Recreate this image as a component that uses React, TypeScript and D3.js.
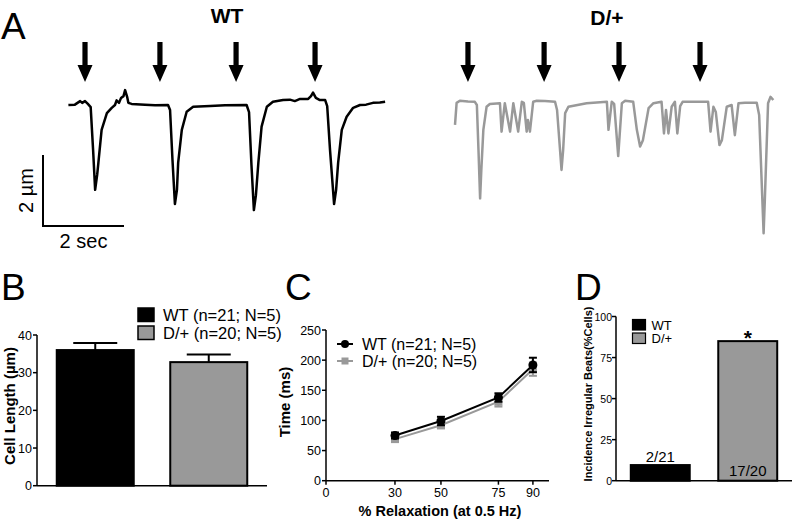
import React from 'react';
import * as d3 from 'd3';

const FONT = "'Liberation Sans', Arial, Helvetica, sans-serif";

// ---------- Panel A: example cell-length traces (time in s, length change in µm) ----------
const wtTraceTime = [0.01, 0.17, 0.30, 0.35, 0.42, 0.49, 0.56, 0.62, 0.67, 0.72, 0.75, 0.83, 0.96, 1.08, 1.16, 1.20, 1.26, 1.31, 1.37, 1.41, 1.46, 1.49, 1.57, 1.90, 2.15, 2.47, 2.52, 2.58, 2.64, 2.69, 2.72, 2.81, 2.93, 3.09, 3.51, 3.88, 4.41, 4.47, 4.53, 4.59, 4.64, 4.70, 4.78, 4.91, 5.06, 5.31, 5.48, 5.60, 5.73, 5.93, 6.00, 6.05, 6.12, 6.22, 6.35, 6.40, 6.47, 6.57, 6.62, 6.67, 6.76, 6.88, 7.04, 7.21, 7.36, 7.53, 7.70, 7.83];
const wtTraceLength = [0, 0.01, 0.11, 0.06, 0.11, 0.03, -0.06, -1.27, -2.39, -1.97, -1.63, -0.70, -0.23, -0.08, 0, 0.13, 0.06, 0.20, 0.25, 0.42, 0.23, 0.06, 0.03, 0.01, -0.01, 0, -0.14, -1.55, -2.79, -2.39, -1.63, -0.70, -0.19, -0.05, -0.03, -0.01, 0, -0.20, -1.69, -2.96, -2.54, -1.63, -0.61, -0.05, 0.09, 0.14, 0.15, 0.11, 0.17, 0.17, 0.25, 0.35, 0.20, 0.14, 0.14, -0.03, -1.27, -2.79, -2.39, -1.63, -0.70, -0.33, -0.08, 0, 0.01, 0.06, 0.07, 0.09];
const dTraceTime = [0, 0.04, 0.12, 0.32, 0.49, 0.54, 0.58, 0.62, 0.65, 0.70, 0.78, 0.86, 1.11, 1.15, 1.23, 1.36, 1.44, 1.56, 1.65, 1.70, 1.77, 1.80, 1.85, 1.93, 2.02, 2.22, 2.47, 2.52, 2.63, 2.67, 2.72, 2.80, 3.25, 3.75, 3.79, 3.87, 3.93, 4.03, 4.12, 4.20, 4.40, 4.49, 4.57, 4.64, 4.78, 4.90, 5.10, 5.16, 5.21, 5.27, 5.35, 5.43, 5.49, 5.56, 5.62, 6.25, 6.31, 6.38, 6.44, 6.53, 6.59, 6.71, 6.83, 6.91, 7.00, 7.16, 7.45, 7.51, 7.62, 7.65, 7.73, 7.79, 7.86];
const dTraceLength = [-0.56, 0.06, 0.12, 0.10, 0.09, 0, -1.27, -2.63, -1.83, -0.70, -0.05, 0.03, 0.05, -0.75, 0.05, -0.75, 0.05, -0.75, 0.09, 0.06, -0.75, -0.42, -0.75, 0.09, 0.12, 0.11, 0.09, -0.14, -1.83, -1.27, -0.23, -0.05, 0.05, 0.09, -0.70, 0.09, 0.03, -1.44, 0.05, 0.12, 0.09, -0.70, -1.17, -0.99, -0.09, 0.05, 0.09, -0.80, -0.14, -0.80, -0.05, 0.09, -0.80, -0.03, 0.09, 0.09, -0.75, -0.05, -0.20, -1.13, -0.99, -0.05, 0, -0.85, 0.05, 0.06, 0.06, -0.28, -3.61, -2.68, 0.05, 0.23, 0.14];
const wtStimuli = [0.42, 2.27, 4.15, 6.1];
const dStimuli = [0.32, 2.2, 4.05, 6.05];

// ---------- Panel B: cell length ----------
const groups = ['WT', 'D/+'];
const groupLegend = ['WT (n=21; N=5)', 'D/+ (n=20; N=5)'];
const cellLength = [36.0, 32.8];
const cellLengthSem = [1.9, 2.0];
const bYTicks = [0, 10, 20, 30, 40];

// ---------- Panel C: relaxation time ----------
const relaxation = [30, 50, 75, 90];
const wtRelaxTime = [75, 99, 138, 192];
const wtRelaxSem = [5, 7, 7, 12];
const dRelaxTime = [69, 92, 131, 185];
const dRelaxSem = [4, 5, 8, 11];
const cXTicks = [0, 30, 50, 75, 90];
const cYTicks = [0, 50, 100, 150, 200, 250];

// ---------- Panel D: incidence of irregular beats ----------
const incidence = [9.52, 85];
const incidenceLabels = ['2/21', '17/20'];
const dYTicks = [0, 25, 50, 75, 100];

const BLACK = '#000';
const GREY = '#999';

function Arrow({ x }: { x: number }) {
  const top = 42, headStart = 65, tip = 82, sw = 2.6, hw = 7.5;
  const d = `M${x - sw},${top}L${x + sw},${top}L${x + sw},${headStart}L${x + hw},${headStart}L${x},${tip}L${x - hw},${headStart}L${x - sw},${headStart}Z`;
  return <path d={d} fill={BLACK} />;
}

function Trace({ t, v, x0, color }: { t: number[]; v: number[]; x0: number; color: string }) {
  const x = d3.scaleLinear().domain([0, 1]).range([x0, x0 + 40.5]);
  const y = d3.scaleLinear().domain([0, -2]).range([105, 176]);
  const line = d3.line<number>().x((_, i) => x(t[i])).y((_, i) => y(v[i])).curve(d3.curveLinear);
  return <path d={line(t) || ''} fill="none" stroke={color} strokeWidth={2.5} strokeLinejoin="round" />;
}

export default function App() {
  // Panel A scales
  const xWT = d3.scaleLinear().domain([0, 1]).range([68, 108.5]);
  const xD = d3.scaleLinear().domain([0, 1]).range([455, 495.5]);
  const yTr = d3.scaleLinear().domain([0, -2]).range([105, 176]);
  const barX0 = 43, barY0 = 226;
  const secLen = xWT(2) - xWT(0);
  const umLen = yTr(-2) - yTr(0);

  // Panel B
  const bx = d3.scaleBand<string>().domain(groups).range([37, 267]).paddingInner(0.3216).paddingOuter(0.174);
  const by = d3.scaleLinear().domain([0, 40]).range([485.7, 335]);

  // Panel C
  const cx = d3.scaleLinear().domain([0, 97]).range([326, 549]);
  const cy = d3.scaleLinear().domain([0, 250]).range([480.7, 330]);
  const cLine = d3.line<number>().x((_, i) => cx(relaxation[i])).y((d) => cy(d));

  // Panel D
  const dx = d3.scaleBand<string>().domain(groups).range([616, 792]).paddingInner(0.326).paddingOuter(0.169);
  const dy = d3.scaleLinear().domain([0, 100]).range([480.7, 316.5]);

  return (
    <svg width={793} height={520} style={{ position: 'absolute', left: 0, top: 0, background: '#fff' }} fontFamily={FONT}>
      <rect x={0} y={0} width={793} height={520} fill="#fff" />
      {/* Panel A */}
      <text x={1} y={39} fontSize={37}>A</text>
      <text x={227} y={23} fontSize={21} fontWeight="bold" textAnchor="middle">WT</text>
      <text x={607} y={25} fontSize={21} fontWeight="bold" textAnchor="middle">D/+</text>
      {wtStimuli.map((s, i) => <Arrow key={'wa' + i} x={xWT(s)} />)}
      {dStimuli.map((s, i) => <Arrow key={'da' + i} x={xD(s)} />)}
      <Trace t={wtTraceTime} v={wtTraceLength} x0={68} color={BLACK} />
      <Trace t={dTraceTime} v={dTraceLength} x0={455} color={GREY} />
      <path d={`M${barX0},${barY0 - umLen}L${barX0},${barY0}L${barX0 + secLen},${barY0}`} fill="none" stroke={BLACK} strokeWidth={2} />
      <text transform={`translate(33,${barY0 - umLen / 2}) rotate(-90)`} fontSize={20} textAnchor="middle">2 µm</text>
      <text x={barX0 + secLen / 2} y={248} fontSize={20} textAnchor="middle">2 sec</text>

      {/* Panel B */}
      <text x={1} y={300} fontSize={37}>B</text>
      <line x1={37} x2={37} y1={by(40)} y2={by(0)} stroke={BLACK} strokeWidth={1.5} />
      <line x1={37} x2={267} y1={by(0)} y2={by(0)} stroke={BLACK} strokeWidth={1.5} />
      {bYTicks.map((t) => (
        <g key={'bt' + t}>
          <line x1={33} x2={37} y1={by(t)} y2={by(t)} stroke={BLACK} strokeWidth={1.5} />
          <text x={32} y={by(t) + 4.5} fontSize={12.5} textAnchor="end">{t}</text>
        </g>
      ))}
      {groups.map((g, i) => {
        const x0 = bx(g)!;
        const w = bx.bandwidth();
        const cxm = x0 + w / 2;
        return (
          <g key={'bb' + g}>
            <line x1={cxm} x2={cxm} y1={by(cellLength[i])} y2={by(cellLength[i] + cellLengthSem[i])} stroke={BLACK} strokeWidth={2} />
            <line x1={cxm - 22} x2={cxm + 22} y1={by(cellLength[i] + cellLengthSem[i])} y2={by(cellLength[i] + cellLengthSem[i])} stroke={BLACK} strokeWidth={2} />
            <rect x={x0} y={by(cellLength[i])} width={w} height={by(0) - by(cellLength[i])} fill={i === 0 ? BLACK : GREY} stroke={BLACK} strokeWidth={2} />
          </g>
        );
      })}
      {groupLegend.map((l, i) => (
        <g key={'bl' + i}>
          <rect x={138} y={308 + i * 18} width={16} height={13.5} fill={i === 0 ? BLACK : GREY} stroke={BLACK} strokeWidth={1.5} />
          <text x={163} y={321 + i * 17.5} fontSize={16.5}>{l}</text>
        </g>
      ))}
      <text transform={`translate(15,${406}) rotate(-90)`} fontSize={15} fontWeight="bold" textAnchor="middle">Cell Length (µm)</text>

      {/* Panel C */}
      <text x={285} y={300} fontSize={37}>C</text>
      <line x1={326} x2={326} y1={cy(250)} y2={cy(0)} stroke={BLACK} strokeWidth={1.5} />
      <line x1={326} x2={549} y1={cy(0)} y2={cy(0)} stroke={BLACK} strokeWidth={1.5} />
      {cYTicks.map((t) => (
        <g key={'cyt' + t}>
          <line x1={322} x2={326} y1={cy(t)} y2={cy(t)} stroke={BLACK} strokeWidth={1.5} />
          <text x={321} y={cy(t) + 4.5} fontSize={12.5} textAnchor="end">{t}</text>
        </g>
      ))}
      {cXTicks.map((t) => (
        <g key={'cxt' + t}>
          <line x1={cx(t)} x2={cx(t)} y1={cy(0)} y2={cy(0) + 4} stroke={BLACK} strokeWidth={1.5} />
          <text x={cx(t)} y={497} fontSize={12.5} textAnchor="middle">{t}</text>
        </g>
      ))}
      {/* D/+ series */}
      <path d={cLine(dRelaxTime) || ''} fill="none" stroke={GREY} strokeWidth={2} />
      {relaxation.map((r, i) => (
        <g key={'cd' + r}>
          <line x1={cx(r)} x2={cx(r)} y1={cy(dRelaxTime[i] - dRelaxSem[i])} y2={cy(dRelaxTime[i] + dRelaxSem[i])} stroke={GREY} strokeWidth={2} />
          <line x1={cx(r) - 4} x2={cx(r) + 4} y1={cy(dRelaxTime[i] - dRelaxSem[i])} y2={cy(dRelaxTime[i] - dRelaxSem[i])} stroke={GREY} strokeWidth={2} />
          <line x1={cx(r) - 4} x2={cx(r) + 4} y1={cy(dRelaxTime[i] + dRelaxSem[i])} y2={cy(dRelaxTime[i] + dRelaxSem[i])} stroke={GREY} strokeWidth={2} />
          <rect x={cx(r) - 4} y={cy(dRelaxTime[i]) - 4} width={8} height={8} fill={GREY} />
        </g>
      ))}
      {/* WT series */}
      <path d={cLine(wtRelaxTime) || ''} fill="none" stroke={BLACK} strokeWidth={2} />
      {relaxation.map((r, i) => (
        <g key={'cw' + r}>
          <line x1={cx(r)} x2={cx(r)} y1={cy(wtRelaxTime[i] - wtRelaxSem[i])} y2={cy(wtRelaxTime[i] + wtRelaxSem[i])} stroke={BLACK} strokeWidth={2} />
          <line x1={cx(r) - 4} x2={cx(r) + 4} y1={cy(wtRelaxTime[i] - wtRelaxSem[i])} y2={cy(wtRelaxTime[i] - wtRelaxSem[i])} stroke={BLACK} strokeWidth={2} />
          <line x1={cx(r) - 4} x2={cx(r) + 4} y1={cy(wtRelaxTime[i] + wtRelaxSem[i])} y2={cy(wtRelaxTime[i] + wtRelaxSem[i])} stroke={BLACK} strokeWidth={2} />
          <circle cx={cx(r)} cy={cy(wtRelaxTime[i])} r={4.5} fill={BLACK} />
        </g>
      ))}
      {/* C legend */}
      <line x1={337} x2={353} y1={344} y2={344} stroke={BLACK} strokeWidth={2} />
      <circle cx={345} cy={344} r={4} fill={BLACK} />
      <text x={362} y={350} fontSize={16}>{groupLegend[0]}</text>
      <line x1={337} x2={353} y1={361} y2={361} stroke={GREY} strokeWidth={2} />
      <rect x={341.5} y={357.5} width={7} height={7} fill={GREY} />
      <text x={362} y={367} fontSize={16}>{groupLegend[1]}</text>
      <text transform={`translate(290,${402}) rotate(-90)`} fontSize={15} fontWeight="bold" textAnchor="middle">Time (ms)</text>
      <text x={440} y={516} fontSize={14.5} fontWeight="bold" textAnchor="middle">% Relaxation (at 0.5 Hz)</text>

      {/* Panel D */}
      <text x={575} y={300} fontSize={37}>D</text>
      <line x1={616} x2={616} y1={dy(100)} y2={dy(0)} stroke={BLACK} strokeWidth={1.5} />
      <line x1={616} x2={792} y1={dy(0)} y2={dy(0)} stroke={BLACK} strokeWidth={1.5} />
      {dYTicks.map((t) => (
        <g key={'dyt' + t}>
          <line x1={612} x2={616} y1={dy(t)} y2={dy(t)} stroke={BLACK} strokeWidth={1.5} />
          <text x={612} y={dy(t) + 4} fontSize={10.5} textAnchor="end">{t}</text>
        </g>
      ))}
      {groups.map((g, i) => {
        const x0 = dx(g)!;
        const w = dx.bandwidth();
        return (
          <rect key={'db' + g} x={x0} y={dy(incidence[i])} width={w} height={dy(0) - dy(incidence[i])} fill={i === 0 ? BLACK : GREY} stroke={BLACK} strokeWidth={2} />
        );
      })}
      <text x={dx(groups[0])! + dx.bandwidth() / 2} y={462} fontSize={15} textAnchor="middle">{incidenceLabels[0]}</text>
      <text x={dx(groups[1])! + dx.bandwidth() / 2} y={476} fontSize={15} textAnchor="middle">{incidenceLabels[1]}</text>
      <text x={dx(groups[1])! + dx.bandwidth() / 2} y={345} fontSize={21} fontWeight="bold" textAnchor="middle">*</text>
      {groups.map((g, i) => (
        <g key={'dl' + g}>
          <rect x={632.5} y={319.5 + i * 13.5} width={13} height={10.5} fill={i === 0 ? BLACK : GREY} stroke={BLACK} strokeWidth={1.2} />
          <text x={651.5} y={329.5 + i * 13.5} fontSize={13}>{g}</text>
        </g>
      ))}
      <text transform={`translate(592,${394}) rotate(-90)`} fontSize={11} fontWeight="bold" textAnchor="middle">Incidence Irregular Beats(%Cells)</text>
    </svg>
  );
}
